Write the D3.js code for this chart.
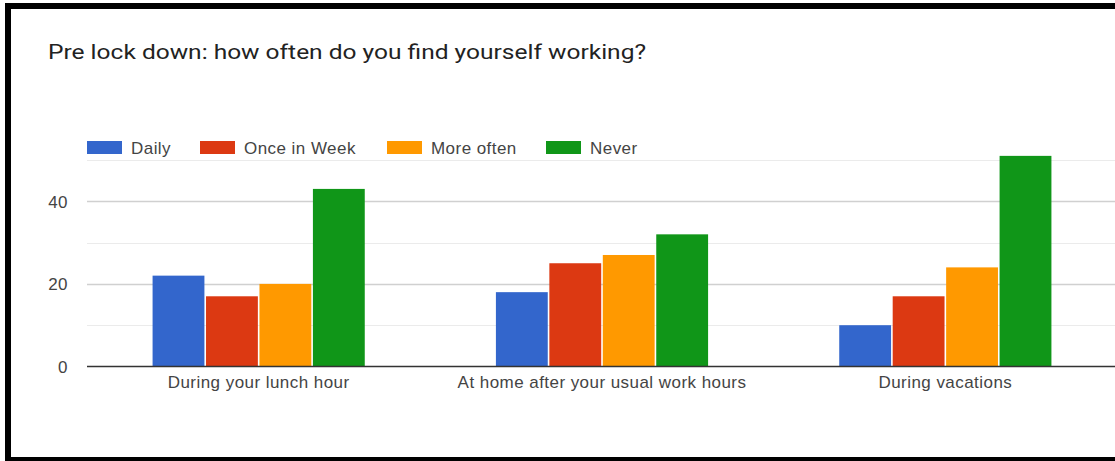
<!DOCTYPE html>
<html>
<head>
<meta charset="utf-8">
<script src="https://cdn.jsdelivr.net/npm/d3@7"></script>
<style>
  html, body { margin: 0; padding: 0; background: #fff; }
  svg { display: block; }
  .lbl { font-family: "Liberation Sans", Arial, sans-serif; font-size: 17px; letter-spacing: 0.45px; fill: #444; }
  .title { font-family: Roboto, "Open Sans", sans-serif; font-size: 19.5px; fill: #222; }
</style>
</head>
<body>
<svg id="chart" width="1115" height="461"></svg>
<script>
// Survey answers per situation
const categories = ["During your lunch hour", "At home after your usual work hours", "During vacations"];
const series = ["Daily", "Once in Week", "More often", "Never"];
const daily = [22, 18, 10];
const onceInWeek = [17, 25, 17];
const moreOften = [20, 27, 24];
const never = [43, 32, 51];
const colors = ["#3366cc", "#dc3912", "#ff9900", "#109618"];
const yTicks = [0, 20, 40];
const yGrid = [10, 20, 30, 40, 50];

const values = [daily, onceInWeek, moreOften, never];
const rows = categories.map((c, i) => ({
  category: c,
  bars: series.map((s, j) => ({ series: s, value: values[j][i] }))
}));

const svg = d3.select("#chart");

// outer frame
svg.append("rect").attr("x", 5).attr("y", 3).attr("width", 1130).attr("height", 470).attr("fill", "#000");
svg.append("rect").attr("x", 11).attr("y", 9).attr("width", 1130).attr("height", 448).attr("fill", "#fff");

svg.append("text").attr("class", "title").attr("x", 48).attr("y", 59)
  .attr("textLength", 598).attr("lengthAdjust", "spacingAndGlyphs")
  .text("Pre lock down: how often do you find yourself working?");

const x0 = d3.scaleBand().domain(categories).range([87, 1117]).paddingInner(0.382).paddingOuter(0.191);
const x1 = d3.scaleBand().domain(series).range([0, x0.bandwidth()]).paddingInner(0.03);
const y = d3.scaleLinear().domain([0, 50]).range([366.5, 160]);
const color = d3.scaleOrdinal().domain(series).range(colors);

// gridlines
svg.append("g").selectAll("line").data(yGrid).join("line")
  .attr("x1", 87).attr("x2", 1115)
  .attr("y1", d => Math.round(y(d)) + 0.5).attr("y2", d => Math.round(y(d)) + 0.5)
  .attr("stroke", d => d % 20 === 0 ? "#d0d0d0" : "#ebebeb")
  .attr("stroke-width", d => d % 20 === 0 ? 1.5 : 1.2);

// y axis labels
const yAxis = d3.axisLeft(y).tickValues(yTicks).tickSize(0).tickPadding(0);
const ya = svg.append("g").attr("transform", "translate(68,0)").call(yAxis);
ya.select(".domain").remove();
ya.selectAll("text").attr("class", "lbl").attr("font-family", null).attr("font-size", null).attr("fill", null).attr("dy", "0.35em");

// bars
svg.append("g").selectAll("g").data(rows).join("g")
  .attr("transform", d => `translate(${x0(d.category)},0)`)
  .selectAll("rect").data(d => d.bars).join("rect")
  .attr("x", d => x1(d.series))
  .attr("width", x1.bandwidth())
  .attr("y", d => y(d.value))
  .attr("height", d => y(0) - y(d.value))
  .attr("fill", d => color(d.series));

// baseline
svg.append("line").attr("x1", 87).attr("x2", 1115)
  .attr("y1", y(0)).attr("y2", y(0)).attr("stroke", "#333").attr("stroke-width", 1.5);

// category labels
const xAxis = d3.axisBottom(x0).tickSize(0).tickPadding(0);
const xa = svg.append("g").attr("transform", "translate(0,388)").call(xAxis);
xa.select(".domain").remove();
xa.selectAll("text").attr("class", "lbl").attr("font-family", null).attr("font-size", null).attr("fill", null).attr("dy", 0);

// legend
const legendX = [87, 200, 387, 546];
const lg = svg.append("g").selectAll("g").data(series).join("g")
  .attr("transform", (d, i) => `translate(${legendX[i]},141)`);
lg.append("rect").attr("width", 35).attr("height", 13).attr("fill", d => color(d));
lg.append("text").attr("class", "lbl").attr("x", 44).attr("y", 12.5).text(d => d);
</script>
</body>
</html>
